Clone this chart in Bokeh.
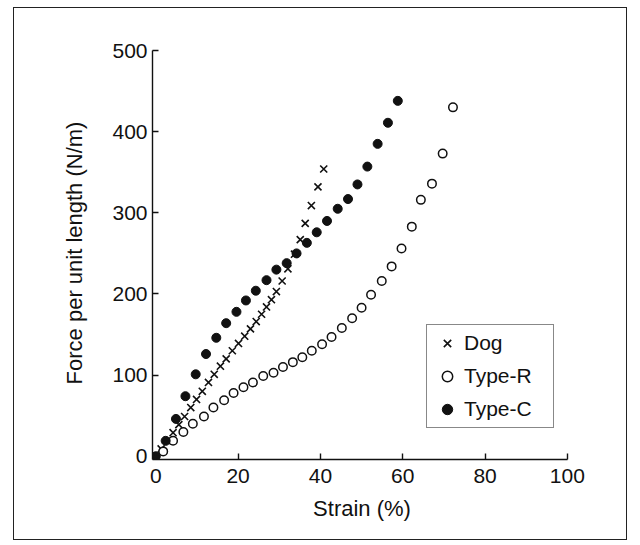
from bokeh.plotting import figure
from bokeh.models import FixedTicker, Legend, LegendItem
from bokeh.embed import file_html
from bokeh.resources import INLINE

# ---- data ----
dog_strain = [1.3, 2.8, 4.2, 5.6, 7.0, 8.5, 9.9, 11.3, 12.8, 14.2, 15.7, 17.1, 18.6, 20.1,
              21.6, 23.0, 24.4, 25.7, 26.9, 28.1, 29.3, 30.7, 32.1, 33.7, 35.1, 36.3,
              37.8, 39.4, 40.8]
dog_force = [9, 19, 29, 39, 49, 60, 70, 80, 91, 101, 111, 120, 130, 139,
             148, 157, 166, 175, 184, 193, 203, 216, 231, 249, 267, 287,
             309, 332, 354]

typer_strain = [1.8, 4.2, 6.7, 9.0, 11.7, 14.0, 16.6, 18.9, 21.3, 23.6, 26.1, 28.6, 30.9,
                33.3, 35.6, 37.9, 40.4, 42.7, 45.2, 47.7, 50.0, 52.3, 54.9, 57.3, 59.7,
                62.2, 64.4, 67.1, 69.7, 72.2]
typer_force = [6, 19, 30, 40, 49, 60, 69, 78, 85, 91, 99, 103, 110,
               116, 122, 130, 138, 147, 158, 170, 183, 199, 216, 234, 256,
               283, 316, 336, 373, 430]

typec_strain = [0.0, 2.4, 4.9, 7.2, 9.7, 12.2, 14.7, 17.1, 19.6, 21.9, 24.3, 26.9, 29.3,
                31.8, 34.2, 36.7, 39.1, 41.6, 44.2, 46.7, 49.0, 51.4, 53.9, 56.4, 58.8]
typec_force = [0, 19, 46, 74, 101, 126, 146, 164, 178, 192, 204, 217, 230,
               238, 250, 263, 276, 290, 305, 317, 335, 357, 385, 411, 438]

x_ticks = [0, 20, 40, 60, 80, 100]
y_ticks = [0, 100, 200, 300, 400, 500]

FONT = "Liberation Sans"

p = figure(width=614, height=533, output_backend="svg", toolbar_location=None,
           x_range=(-0.8, 101), y_range=(-4, 505),
           min_border_left=138, min_border_right=57, min_border_top=38,
           min_border_bottom=82, margin=(7, 0, 0, 13))
p.styles = {"border": "1px solid #222", "box-sizing": "border-box"}
p.outline_line_color = None
p.grid.visible = False
p.background_fill_color = "white"
p.border_fill_color = "white"

for ax, ticks, bnds in ((p.xaxis[0], x_ticks, (-0.8, 100)), (p.yaxis[0], y_ticks, (-4, 500))):
    ax.ticker = FixedTicker(ticks=ticks)
    ax.bounds = bnds
    ax.major_tick_in = 6
    ax.major_tick_out = 0
    ax.minor_tick_line_color = None
    ax.axis_line_width = 1.4
    ax.major_tick_line_width = 1.4
    ax.axis_line_color = "#111"
    ax.major_tick_line_color = "#111"
    ax.major_label_text_font = FONT
    ax.major_label_text_font_size = "21px"
    ax.major_label_text_color = "#111"
    ax.axis_label_text_font = FONT
    ax.axis_label_text_font_size = "22px"
    ax.axis_label_text_font_style = "normal"
    ax.axis_label_text_color = "#111"

p.xaxis.axis_label = "Strain (%)"
p.yaxis.axis_label = "Force per unit length (N/m)"
p.xaxis.major_label_standoff = 9
p.yaxis.major_label_standoff = 5
p.xaxis.axis_label_standoff = 10
p.yaxis.axis_label_standoff = 22

r_dog = p.scatter(dog_strain, dog_force, marker="x", size=10, line_color="#111", line_width=1.6)
r_r = p.scatter(typer_strain, typer_force, marker="circle", size=8.5, fill_color="white",
                line_color="#111", line_width=1.5)
r_c = p.scatter(typec_strain, typec_force, marker="circle", size=9, fill_color="#111",
                line_color="#111", line_width=1)

legend = Legend(items=[LegendItem(label="Dog", renderers=[r_dog]),
                       LegendItem(label="Type-R", renderers=[r_r]),
                       LegendItem(label="Type-C", renderers=[r_c])],
                location=(274, 31))
legend.label_text_font = FONT
legend.label_text_font_size = "21px"
legend.label_text_color = "#111"
legend.label_height = 26
legend.glyph_height = 26
legend.glyph_width = 30
legend.label_standoff = 2
legend.label_width = 84
legend.spacing = 7
legend.padding = 5
legend.margin = 0
legend.border_line_color = "#111"
legend.border_line_width = 1.2
legend.background_fill_alpha = 1
p.add_layout(legend, "center")

open("out.html", "w").write(file_html(p, INLINE))
